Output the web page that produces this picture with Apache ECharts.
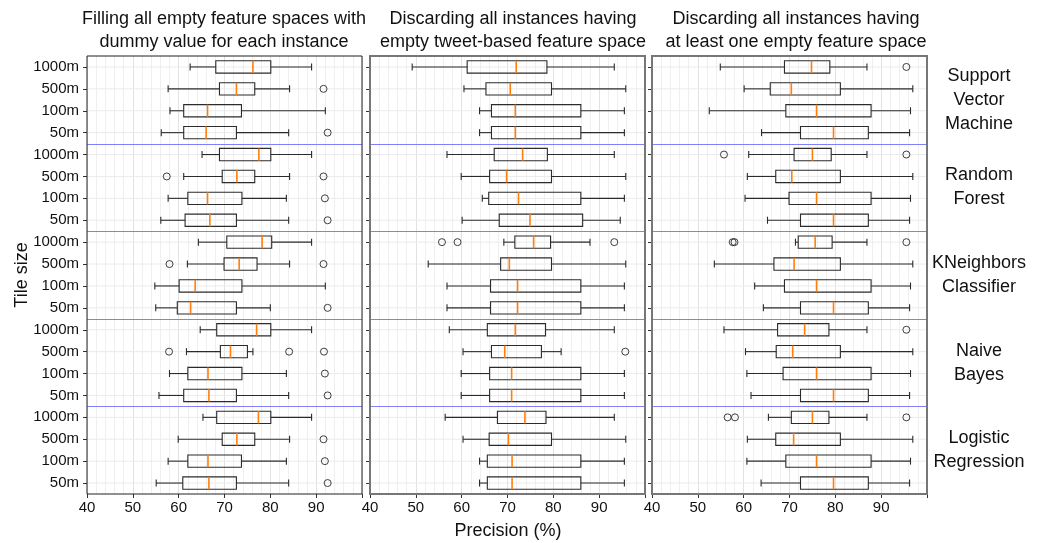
<!DOCTYPE html>
<html>
<head>
<meta charset="utf-8">
<script src="https://cdn.jsdelivr.net/npm/echarts@6/dist/echarts.min.js"></script>
<style>
  html, body { margin: 0; padding: 0; background: #fff; }
  #chart { width: 1039px; height: 543px; }
</style>
</head>
<body>
<div id="chart"></div>
<script>
// 每列: [min, Q1, median, Q3, max]，顺序 SVM, RF, KNN, NB, LR × 1000m, 500m, 100m, 50m
const tileSizes = ['1000m', '500m', '100m', '50m']
const models = [
  'Support\nVector\nMachine',
  'Random\nForest',
  'KNeighbors\nClassifier',
  'Naive\nBayes',
  'Logistic\nRegression',
]
const columnTitles = [
  'Filling all empty feature spaces with\ndummy value for each instance',
  'Discarding all instances having\nempty tweet-based feature space',
  'Discarding all instances having\nat least one empty feature space',
]

const fillStats = [
  [62.5, 68.1, 76.2, 80.1, 89.0], [57.7, 68.9, 72.6, 76.6, 84.2], [58.1, 61.1, 66.3, 73.7, 92.0], [56.2, 61.1, 66.0, 72.6, 84.0],
  [65.1, 68.9, 77.5, 80.1, 89.0], [61.1, 69.5, 72.7, 76.6, 84.2], [57.7, 62.0, 66.3, 73.8, 83.5], [56.1, 61.4, 66.8, 72.6, 84.0],
  [64.3, 70.5, 78.2, 80.3, 89.0], [61.9, 69.9, 73.2, 77.1, 84.2], [54.8, 60.1, 63.6, 73.8, 92.0], [55.0, 59.7, 62.6, 72.6, 80.0],
  [64.7, 68.3, 77.0, 80.1, 89.0], [61.7, 69.1, 71.3, 75.0, 76.2], [58.0, 62.0, 66.4, 73.8, 83.5], [55.7, 61.1, 66.6, 72.6, 84.0],
  [65.3, 68.3, 77.4, 80.1, 89.0], [59.9, 69.5, 72.7, 76.6, 84.2], [57.7, 62.0, 66.4, 73.7, 83.5], [55.1, 60.9, 66.6, 72.6, 84.0],
]
const tweetStats = [
  [49.2, 61.2, 71.9, 78.6, 93.3], [60.5, 65.3, 70.6, 79.6, 95.8], [63.9, 66.5, 71.7, 86.0, 95.5], [63.9, 66.5, 71.7, 86.0, 95.5],
  [56.8, 67.1, 73.3, 78.7, 93.3], [59.9, 66.1, 69.8, 79.6, 95.8], [64.5, 65.9, 72.4, 86.0, 95.5], [60.1, 68.2, 74.9, 86.4, 94.6],
  [69.2, 71.6, 75.7, 79.4, 88.0], [52.7, 68.5, 70.4, 79.6, 95.8], [56.8, 66.3, 72.2, 86.0, 95.5], [56.8, 66.3, 72.2, 86.0, 95.5],
  [57.3, 65.6, 71.7, 78.3, 93.3], [60.3, 66.5, 69.4, 77.4, 81.7], [59.9, 66.1, 70.9, 86.0, 95.5], [59.9, 66.1, 70.9, 86.0, 95.5],
  [56.4, 67.8, 73.8, 78.4, 93.3], [60.3, 66.0, 70.2, 79.6, 95.8], [63.9, 65.6, 71.0, 86.0, 95.5], [63.9, 65.6, 71.0, 86.0, 95.5],
]
const anyStats = [
  [54.9, 68.9, 74.8, 78.8, 86.9], [60.1, 65.8, 70.4, 81.1, 96.9], [52.5, 69.2, 75.9, 87.8, 96.4], [63.9, 72.4, 79.6, 87.2, 96.2],
  [61.1, 71.0, 75.0, 79.1, 86.9], [60.8, 67.0, 70.5, 81.1, 96.9], [60.3, 69.9, 75.9, 87.8, 96.4], [65.2, 72.4, 79.6, 87.2, 96.2],
  [71.3, 71.9, 75.6, 79.3, 86.9], [53.6, 66.6, 71.0, 81.1, 96.9], [62.4, 68.9, 75.9, 87.8, 96.4], [64.3, 72.4, 79.6, 87.2, 96.2],
  [55.7, 67.4, 73.3, 78.6, 86.9], [60.4, 67.1, 70.7, 81.1, 96.9], [60.7, 68.6, 75.9, 87.8, 96.4], [61.6, 72.4, 79.6, 87.2, 96.2],
  [65.4, 70.4, 75.0, 78.6, 86.9], [60.8, 67.0, 70.9, 81.1, 96.9], [60.7, 69.2, 75.9, 87.8, 96.4], [63.8, 72.4, 79.6, 87.2, 96.2],
]
// 离群点: [行号, 值]
const fillOutliers = [
  [1, 91.6], [3, 92.5], [5, 57.4], [5, 91.6], [6, 91.9], [7, 92.5], [9, 58.0], [9, 91.6], [11, 92.5],
  [13, 57.9], [13, 84.1], [13, 91.7], [14, 91.9], [15, 92.5], [17, 91.6], [18, 91.9], [19, 92.5],
]
const tweetOutliers = [[8, 55.7], [8, 59.1], [8, 93.3], [13, 95.7]]
const anyOutliers = [
  [0, 95.5], [4, 55.7], [4, 95.5], [8, 57.6], [8, 58.0], [8, 95.5], [12, 95.5], [16, 56.5], [16, 58.1], [16, 95.5],
]

const FONT = '"Liberation Sans", Arial, sans-serif'
const gridLefts = [87, 370, 652]
const gridWidth = 275
const gridTop = 56
const gridHeight = 438
const rowNames = models.flatMap((m, i) => tileSizes.map((t) => i + '|' + t))

function renderBox(params, api) {
  const row = api.value(0)
  const pts = [1, 2, 3, 4, 5].map((d) => api.coord([api.value(d), row]))
  const y = pts[0][1]
  const band = api.size([0, 1])[1]
  const half = band * 0.28
  const cap = band * 0.16
  const cs = params.coordSys
  const ink = { stroke: '#2b2b2b', lineWidth: 1.1, fill: 'none' }
  const children = [
    { type: 'line', shape: { x1: cs.x, y1: y, x2: cs.x + cs.width, y2: y }, style: { stroke: '#ebebeb', lineWidth: 1 } },
  ]
  // 模型之间的蓝色分隔线
  if (row % 4 === 3 && row < rowNames.length - 1) {
    const yb = Math.round(y + band / 2) + 0.5
    children.push({ type: 'line', shape: { x1: cs.x, y1: yb, x2: cs.x + cs.width, y2: yb }, style: { stroke: '#8080ff', lineWidth: 1.2 } })
  }
  children.push(
    { type: 'line', shape: { x1: pts[0][0], y1: y, x2: pts[1][0], y2: y }, style: ink },
    { type: 'line', shape: { x1: pts[3][0], y1: y, x2: pts[4][0], y2: y }, style: ink },
    { type: 'line', shape: { x1: pts[0][0], y1: y - cap, x2: pts[0][0], y2: y + cap }, style: ink },
    { type: 'line', shape: { x1: pts[4][0], y1: y - cap, x2: pts[4][0], y2: y + cap }, style: ink },
    { type: 'rect', shape: { x: pts[1][0], y: y - half, width: pts[3][0] - pts[1][0], height: half * 2 }, style: ink },
    { type: 'line', shape: { x1: pts[2][0], y1: y - half, x2: pts[2][0], y2: y + half }, style: { stroke: '#ff7f0e', lineWidth: 1.6 } }
  )
  return { type: 'group', children }
}

const columns = [
  { stats: fillStats, outliers: fillOutliers, border: '#222', borderWidth: 1 },
  { stats: tweetStats, outliers: tweetOutliers, border: '#777', borderWidth: 2 },
  { stats: anyStats, outliers: anyOutliers, border: '#777', borderWidth: 2 },
]

let myChart = echarts.init(document.getElementById('chart'))
let options = {
  animation: false,
  grid: columns.map((c, i) => ({
    left: gridLefts[i],
    top: gridTop,
    width: gridWidth,
    height: gridHeight,
    show: true,
    borderColor: c.border,
    borderWidth: c.borderWidth,
    z: 5,
  })),
  xAxis: columns.map((c, i) => ({
    type: 'value',
    gridIndex: i,
    min: 40,
    max: 100,
    interval: 10,
    axisLine: { show: false },
    axisTick: { show: true, length: 4, lineStyle: { color: '#333' } },
    axisLabel: {
      color: '#111',
      fontSize: 15,
      fontFamily: FONT,
      margin: 6,
      formatter: (v) => (v >= 100 ? '' : v),
    },
    splitLine: { show: true, lineStyle: { color: '#e2e2e2' } },
    minorTick: { show: false, splitNumber: 5 },
    minorSplitLine: { show: true, lineStyle: { color: '#efefef' } },
  })),
  yAxis: columns.map((c, i) => ({
    type: 'category',
    gridIndex: i,
    inverse: true,
    data: rowNames,
    axisLine: { show: false },
    axisTick: { show: true, alignWithLabel: true, length: 4, lineStyle: { color: '#333' } },
    axisLabel: {
      show: i === 0,
      interval: 0,
      color: '#111',
      fontSize: 15,
      fontFamily: FONT,
      margin: 8,
      formatter: (v) => v.split('|')[1],
    },
    splitLine: { show: false },
  })),
  series: columns.flatMap((c, i) => [
    {
      type: 'custom',
      xAxisIndex: i,
      yAxisIndex: i,
      silent: true,
      renderItem: renderBox,
      encode: { x: [1, 2, 3, 4, 5], y: 0 },
      data: c.stats.map((s, r) => [r, ...s]),
    },
    {
      type: 'scatter',
      xAxisIndex: i,
      yAxisIndex: i,
      silent: true,
      symbol: 'circle',
      symbolSize: 7,
      itemStyle: { color: 'rgba(0,0,0,0)', borderColor: '#111', borderWidth: 1 },
      data: c.outliers.map((o) => [o[1], o[0]]),
    },
  ]),
  graphic: [
    ...columnTitles.map((t, i) => ({
      type: 'text',
      x: [224, 513, 796][i],
      y: 31,
      style: {
        text: t,
        font: '18px ' + FONT,
        fill: '#111',
        textAlign: 'center',
        textVerticalAlign: 'middle',
        lineHeight: 23,
      },
    })),
    ...models.map((m, i) => ({
      type: 'text',
      x: 979,
      y: gridTop + (gridHeight / 5) * (i + 0.5),
      style: {
        text: m,
        font: '18px ' + FONT,
        fill: '#111',
        textAlign: 'center',
        textVerticalAlign: 'middle',
        lineHeight: 24,
      },
    })),
    {
      type: 'text',
      x: 508,
      y: 531,
      style: { text: 'Precision (%)', font: '18px ' + FONT, fill: '#111', textAlign: 'center', textVerticalAlign: 'middle' },
    },
    {
      type: 'text',
      x: 22,
      y: 275,
      rotation: Math.PI / 2,
      style: { text: 'Tile size', font: '18px ' + FONT, fill: '#111', textAlign: 'center', textVerticalAlign: 'middle' },
    },
  ],
}
myChart.setOption(options)
window.addEventListener('resize', () => {
  myChart.resize()
})
</script>
</body>
</html>
